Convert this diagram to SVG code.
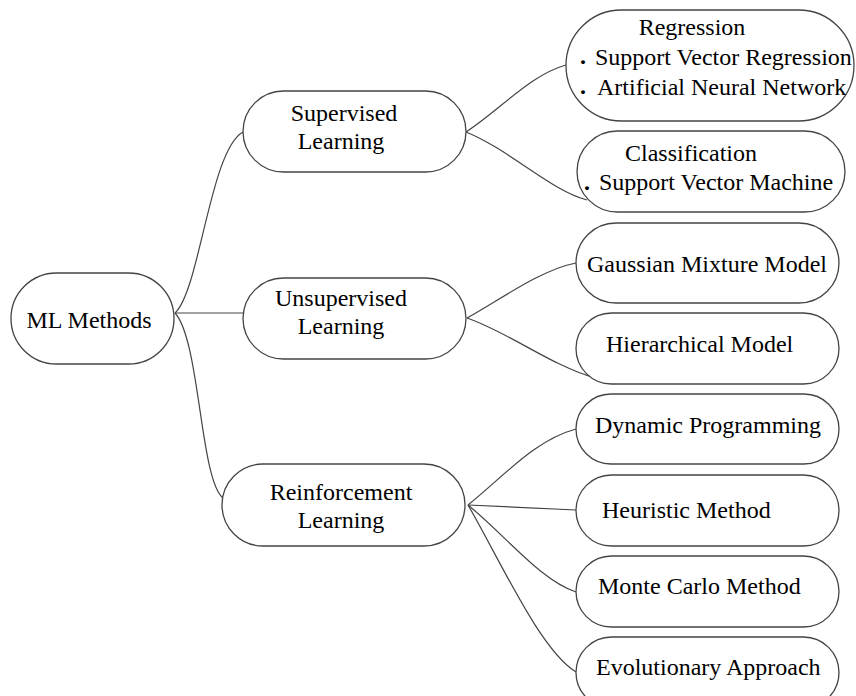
<svg xmlns="http://www.w3.org/2000/svg" width="856" height="696" viewBox="0 0 856 696">
<style>
.box{fill:#fff;stroke:#444;stroke-width:1.3}
.t{font-family:"Liberation Serif","Times New Roman",serif;font-size:24px;fill:#000}
.m{text-anchor:middle}
.b{font-weight:bold}
.edge{fill:none;stroke:#444;stroke-width:1.2}
</style>
<rect width="856" height="696" fill="#fff"/>
<g id="connectors">
<path class="edge" d="M175,313 C200,290 210,150 243,132"/>
<path class="edge" d="M175,313 L243,313"/>
<path class="edge" d="M175,313 C200,340 200,480 223,498"/>
<path class="edge" d="M466,132 C500,110 530,75 566,65"/>
<path class="edge" d="M466,132 C510,150 550,190 587,200"/>
<path class="edge" d="M467,318 C500,300 540,270 576,263"/>
<path class="edge" d="M467,318 C510,333 550,365 595,378"/>
<path class="edge" d="M468,505 C505,475 535,440 576,429"/>
<path class="edge" d="M468,505 L576,510"/>
<path class="edge" d="M468,505 C505,535 540,580 576,592"/>
<path class="edge" d="M468,505 C500,560 540,650 576,672"/>
</g>
<g id="ml-methods">
<rect class="box" x="11" y="273" width="163" height="91" rx="45.5"/>
<text class="t m" x="89" y="328">ML Methods</text>
</g>
<g id="supervised">
<rect class="box" x="243" y="91" width="223" height="81" rx="40.5"/>
<text class="t m" x="344" y="121">Supervised</text>
<text class="t m" x="341" y="149">Learning</text>
</g>
<g id="unsupervised">
<rect class="box" x="243" y="278" width="223" height="81" rx="40.5"/>
<text class="t m" x="341" y="306">Unsupervised</text>
<text class="t m" x="341" y="334">Learning</text>
</g>
<g id="reinforcement">
<rect class="box" x="222" y="464" width="243" height="82" rx="41"/>
<text class="t m" x="341" y="500">Reinforcement</text>
<text class="t m" x="341" y="528">Learning</text>
</g>
<g id="regression">
<rect class="box" x="566" y="10" width="288" height="111" rx="55.5"/>
<text class="t m" x="692" y="35">Regression</text>
<text class="t m b" x="583" y="64">.</text>
<text class="t" x="595" y="65">Support Vector Regression</text>
<text class="t m b" x="583" y="94">.</text>
<text class="t" x="597" y="95">Artificial Neural Network</text>
</g>
<g id="classification">
<rect class="box" x="577" y="131" width="268" height="81" rx="40.5"/>
<text class="t m" x="691" y="161">Classification</text>
<text class="t m b" x="587" y="190">.</text>
<text class="t" x="599" y="190">Support Vector Machine</text>
</g>
<g id="gaussian">
<rect class="box" x="576" y="223" width="263" height="80" rx="40"/>
<text class="t" x="587" y="272">Gaussian Mixture Model</text>
</g>
<g id="hierarchical">
<rect class="box" x="576" y="313" width="263" height="71" rx="35.5"/>
<text class="t" x="606" y="352">Hierarchical Model</text>
</g>
<g id="dynamic">
<rect class="box" x="576" y="394" width="263" height="70" rx="35"/>
<text class="t" x="595" y="433">Dynamic Programming</text>
</g>
<g id="heuristic">
<rect class="box" x="576" y="475" width="263" height="71" rx="35.5"/>
<text class="t" x="602" y="518">Heuristic Method</text>
</g>
<g id="montecarlo">
<rect class="box" x="576" y="556" width="263" height="71" rx="35.5"/>
<text class="t" x="598" y="594">Monte Carlo Method</text>
</g>
<g id="evolutionary">
<rect class="box" x="576" y="637" width="263" height="71" rx="35.5"/>
<text class="t" x="596" y="675">Evolutionary Approach</text>
</g>
</svg>
